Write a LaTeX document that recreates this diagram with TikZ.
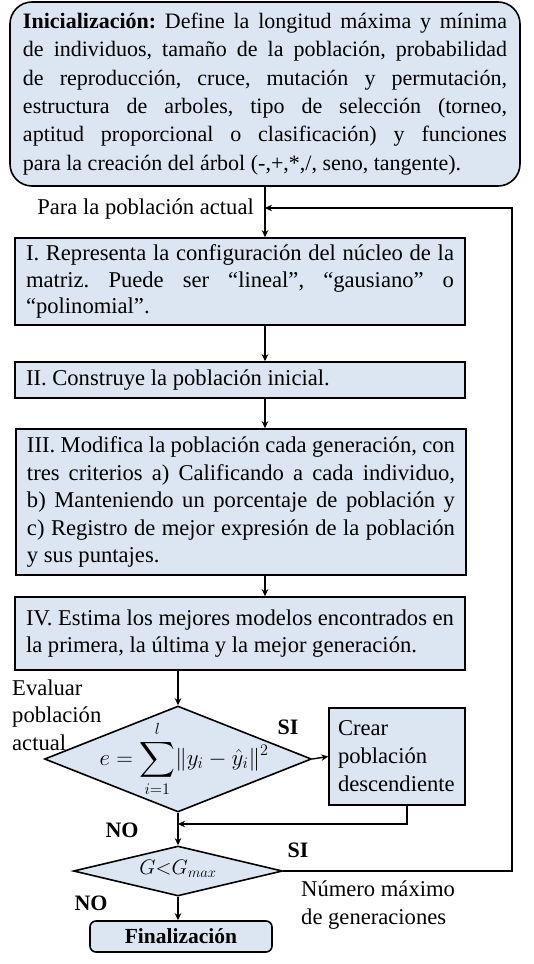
\RequirePackage{fix-cm}
\documentclass[tikz,border=0pt]{standalone}
\usepackage{amsmath}
\usepackage{fontspec}
\setmainfont{Liberation Serif}
\usetikzlibrary{shapes.geometric,arrows.meta}
\definecolor{boxblue}{RGB}{220,230,242}
\frenchspacing
\begin{document}
\begin{tikzpicture}[x=1pt,y=-1pt,
  txt/.style={font=\fontsize{22.6}{27.5}\selectfont\frenchspacing, inner sep=0pt},
  box/.style={draw=black, line width=1.6pt, fill=boxblue, inner xsep=11pt, inner ysep=0pt,
              font=\fontsize{22.6}{27.5}\selectfont\frenchspacing, align=justify},
  dia/.style={diamond, draw=black, line width=1.6pt, fill=boxblue, inner sep=0pt, aspect=2.5},
  arr/.style={line width=1.4pt, -{Stealth[length=7pt,width=6.5pt]}},
  ln/.style={line width=1.4pt},
  lbl/.style={font=\fontsize{22}{27.5}\selectfont\bfseries, inner sep=0pt}]
\useasboundingbox (0,0) rectangle (534,964);

\node[box, rounded corners=22pt, text width=484pt, inner xsep=10pt, minimum width=510pt, minimum height=184pt, font=\fontsize{22}{28.3}\selectfont\frenchspacing] (init) at (265,94)
 {\hyphenpenalty=10000 \textbf{Inicialización:} Define la longitud máxima y mínima\linebreak
  de individuos, tamaño de la población, probabilidad\linebreak
  de reproducción, cruce, mutación y permutación,\linebreak
  estructura de arboles, tipo de selección (torneo,\linebreak
  aptitud proporcional o clasificación) y funciones\linebreak
  para la creación del árbol (-,+,*,/, seno, tangente).};

\node[box, text width=428pt, minimum width=450pt, minimum height=87pt, font=\fontsize{22.6}{26.5}\selectfont\frenchspacing] (b1) at (240,281.5)
 {I. Representa la configuración del núcleo de la\linebreak
  matriz. Puede ser “lineal”, “gausiano” o\linebreak
  “polinomial”.};

\node[box, text width=428pt, minimum width=450pt, minimum height=36pt] (b2) at (240,380)
 {II. Construye la población inicial.};

\node[box, text width=428pt, minimum width=448pt, minimum height=146pt] (b3) at (241,502)
 {III. Modifica la población cada generación, con\linebreak
  tres criterios a) Calificando a cada individuo,\linebreak
  b) Manteniendo un porcentaje de población y\linebreak
  c) Registro de mejor expresión de la población\linebreak
  y sus puntajes.};

\node[box, text width=428pt, minimum width=450pt, minimum height=73pt] (b4) at (240,633.5)
 {IV. Estima los mejores modelos encontrados en\linebreak
  la primera, la última y la mejor generación.};

\node[dia, minimum width=267pt, minimum height=106pt] (d1) at (178,759) {};
\node[inner sep=0pt, font=\fontsize{23}{26}\selectfont] (f1) at ([xshift=6pt]d1.center)
 {$\displaystyle e=\sum_{i=1}^{l}\lVert y_i-\hat{y}_i\rVert^2$};

\node[box, align=left, text width=118pt, inner xsep=9pt, minimum width=136pt, minimum height=97pt, font=\fontsize{22.6}{28}\selectfont] (cr) at (397,756.5)
 {Crear\\población\\descendiente};

\node[dia, minimum width=209pt, minimum height=50pt] (d2) at (178,871) {};
\node[inner sep=0pt, font=\fontsize{21}{24}\selectfont] (f2) at ([yshift=2pt]d2.center) {$G{<}G_{max}$};

\node[draw=black, line width=1.6pt, fill=boxblue, rounded corners=6pt, minimum width=182pt, minimum height=31pt, inner sep=0pt, font=\fontsize{21.5}{25}\selectfont\bfseries] (fin) at (181,936.5)
 {Finalización};

% labels
\node[txt, anchor=east] (para) at (254,209) {Para la población actual};
\node[txt, anchor=west, align=left] (eval) at (12,715) {Evaluar\\población\\actual};
\node[lbl] (si1) at (288,727) {SI};
\node[lbl] (no1) at (122,830) {NO};
\node[lbl] (si2) at (298,850) {SI};
\node[lbl] (no2) at (91,903) {NO};
\node[txt, anchor=west, align=left] (nmax) at (301,905) {Número máximo\\de generaciones};

% connectors
\coordinate (join) at (init.south |- 0,208);
\coordinate (fbc) at (512,208);
\coordinate (mrg) at (178,824);
\draw[arr] (init.south) -- (init.south |- b1.north);
\draw[arr] (b1.south -| join) -- (b2.north -| join);
\draw[arr] (b2.south -| join) -- (b3.north -| join);
\draw[arr] (b3.south -| join) -- (b4.north -| join);
\draw[arr] (b4.south -| d1.north) -- (d1.north);
\draw[arr] (d1.east) -- (cr.west);
\draw[arr] ([xshift=10pt]cr.south) |- (mrg);
\draw[arr] (d1.south) -- (d2.north);
\draw[arr] (d2.south) -- (d2.south |- fin.north);
\draw[arr] (d2.east) -| (fbc) -- (join);
\end{tikzpicture}
\end{document}
